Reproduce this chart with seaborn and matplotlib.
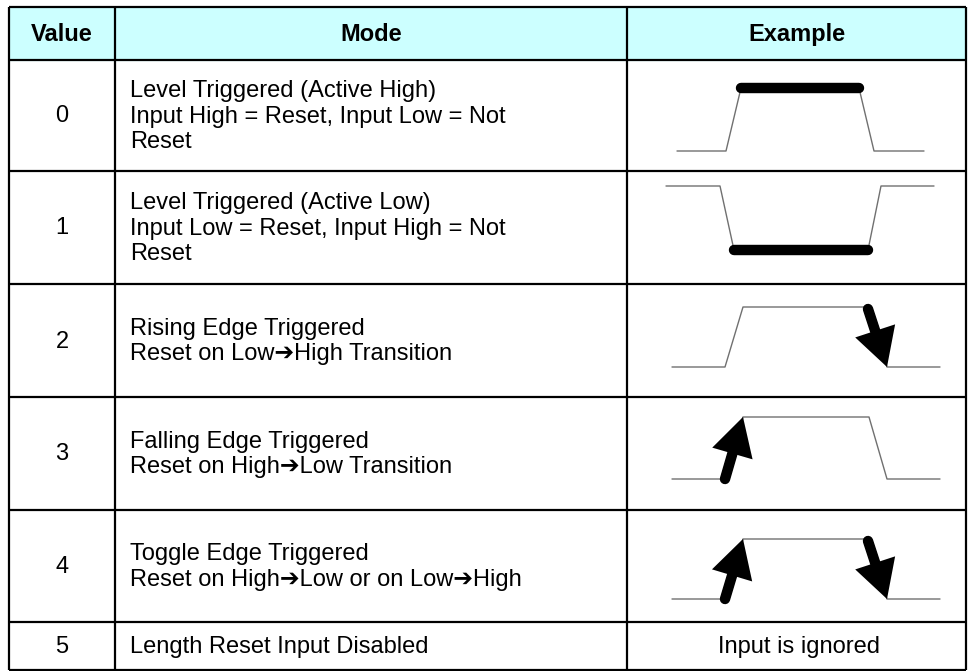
import numpy as np
import pandas as pd
import seaborn as sns
import matplotlib.pyplot as plt
import matplotlib.patches as mpatches

# table content
headers = ['Value', 'Mode', 'Example']
values = ['0', '1', '2', '3', '4', '5']
arr = '\u2794'
modes = ['Level Triggered (Active High)\nInput High = Reset, Input Low = Not\nReset',
         'Level Triggered (Active Low)\nInput Low = Reset, Input High = Not\nReset',
         'Rising Edge Triggered\nReset on Low' + arr + 'High Transition',
         'Falling Edge Triggered\nReset on High' + arr + 'Low Transition',
         'Toggle Edge Triggered\nReset on High' + arr + 'Low or on Low' + arr + 'High',
         'Length Reset Input Disabled']
last_example = 'Input is ignored'

# waveforms (pixel units)
wave_x = [[677, 726, 741, 859, 874, 924],
          [666, 720, 734, 868, 881, 934],
          [672, 725, 743, 869, 887, 940],
          [672, 725, 743, 869, 887, 940],
          [672, 725, 743, 869, 887, 940]]
wave_y = [[151, 151, 88, 88, 151, 151],
          [186, 186, 250, 250, 186, 186],
          [367, 367, 307, 307, 367, 367],
          [479, 479, 417, 417, 479, 479],
          [599, 599, 539, 539, 599, 599]]
# thick level bars: row, x0, x1, y
bars = [(0, 741, 859, 88), (1, 734, 868, 250)]
# edge arrows: tail x, tail y, tip x, tip y
arrows = [(868, 309, 887, 367),
          (725, 479, 743, 417),
          (725, 599, 743, 539),
          (868, 541, 887, 599)]

# grid lines of the table
col_edges = [9, 115, 627, 966]
row_edges = [7, 60, 171, 284, 397, 510, 622, 670]

sns.set_theme(style='white')
plt.rcParams['font.family'] = ['Liberation Sans', 'DejaVu Sans']
plt.rcParams['text.color'] = 'black'

fig = plt.figure(figsize=(9.68, 6.71), dpi=100)
ax = fig.add_axes([0, 0, 1, 1])
ax.set_xlim(0, 968)
ax.set_ylim(671, 0)
ax.axis('off')

# header fill
ax.add_patch(mpatches.Rectangle((col_edges[0], row_edges[0]), col_edges[-1] - col_edges[0],
                                row_edges[1] - row_edges[0], color='#ccffff', zorder=0))

# borders
ax.hlines(row_edges, col_edges[0], col_edges[-1], color='black', lw=1.6, zorder=3)
ax.vlines(col_edges, row_edges[0], row_edges[-1], color='black', lw=1.6, zorder=3)

mids_x = [(a + b) / 2 for a, b in zip(col_edges[:-1], col_edges[1:])]
mids_y = [(a + b) / 2 for a, b in zip(row_edges[:-1], row_edges[1:])]

fs = 17
for h, x in zip(headers, mids_x):
    ax.text(x, mids_y[0] + 1, h, ha='center', va='center', fontsize=fs, fontweight='bold')

for i, (v, m) in enumerate(zip(values, modes)):
    y = mids_y[i + 1] + 1
    ax.text(mids_x[0], y, v, ha='center', va='center', fontsize=fs)
    ax.text(col_edges[1] + 15, y, m, ha='left', va='center', fontsize=fs, linespacing=1.22)

ax.text(mids_x[2] + 3, mids_y[-1] + 1, last_example, ha='center', va='center', fontsize=fs)

# waveforms
for xs, ys in zip(wave_x, wave_y):
    df = pd.DataFrame({'t': xs, 'level': ys})
    sns.lineplot(data=df, x='t', y='level', ax=ax, color='#707070', lw=1.0,
                 sort=False, estimator=None)

for r, x0, x1, y in bars:
    sns.lineplot(x=[x0, x1], y=[y, y], ax=ax, color='black', lw=7.5,
                 solid_capstyle='round', sort=False, estimator=None)

for tx, ty, hx, hy in arrows:
    dx, dy = hx - tx, hy - ty
    ln = np.hypot(dx, dy)
    ux, uy = dx / ln, dy / ln
    head_len = 38
    bx, by = hx - ux * (head_len - 4), hy - uy * (head_len - 4)
    sns.lineplot(x=[tx, bx], y=[ty, by], ax=ax, color='black', lw=7.5,
                 solid_capstyle='round', sort=False, estimator=None)
    ax.add_patch(mpatches.FancyArrow(tx, ty, dx, dy, width=9, head_width=42,
                                     head_length=head_len, length_includes_head=True,
                                     color='black', lw=0, zorder=4))

ax.set_xlabel('')
ax.set_ylabel('')
fig.savefig('out.png', dpi=100)
